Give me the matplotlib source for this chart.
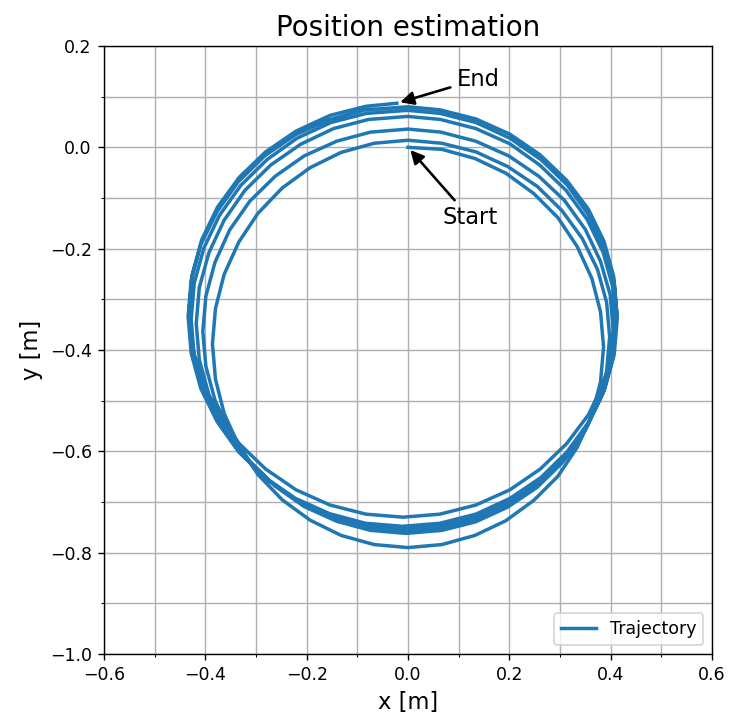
import numpy as np
import matplotlib
matplotlib.use("Agg")
import matplotlib.pyplot as plt
from matplotlib.ticker import MultipleLocator

# estimated trajectory, read off the reference loop by loop
# (clockwise, starting at the top of each loop, roughly every 10 degrees)
loop1_x = [0.000, 0.067, 0.132, 0.193, 0.248, 0.296, 0.334, 0.363, 0.380, 0.386,
           0.380, 0.363, 0.334, 0.296, 0.248, 0.193, 0.132, 0.067, 0.000,
           -0.067, -0.132, -0.193, -0.248, -0.296, -0.334, -0.363, -0.380, -0.386,
           -0.380, -0.363, -0.334, -0.296, -0.248, -0.193, -0.132, -0.067]
loop1_y = [0.000, -0.004, -0.022, -0.051, -0.091, -0.139, -0.196, -0.259, -0.325, -0.394,
           -0.463, -0.529, -0.592, -0.649, -0.697, -0.737, -0.766, -0.784, -0.790,
           -0.784, -0.766, -0.736, -0.696, -0.646, -0.589, -0.525, -0.458, -0.388,
           -0.318, -0.251, -0.187, -0.130, -0.080, -0.040, -0.010, 0.008]

loop2_x = [0.000, 0.067, 0.134, 0.197, 0.255, 0.304, 0.344, 0.374, 0.392, 0.398,
           0.392, 0.374, 0.344, 0.304, 0.255, 0.197, 0.134, 0.067, -0.004,
           -0.074, -0.141, -0.205, -0.262, -0.312, -0.352, -0.381, -0.399, -0.405,
           -0.399, -0.381, -0.352, -0.312, -0.262, -0.205, -0.141, -0.074]
loop2_y = [0.014, 0.008, -0.009, -0.038, -0.077, -0.125, -0.180, -0.241, -0.306, -0.374,
           -0.442, -0.507, -0.568, -0.623, -0.671, -0.710, -0.739, -0.756, -0.762,
           -0.756, -0.738, -0.709, -0.669, -0.620, -0.563, -0.499, -0.432, -0.363,
           -0.294, -0.227, -0.163, -0.106, -0.057, -0.017, 0.012, 0.030]

loop3_x = [0.000, 0.065, 0.134, 0.199, 0.258, 0.309, 0.350, 0.380, 0.399, 0.405,
           0.399, 0.380, 0.350, 0.309, 0.258, 0.199, 0.134, 0.065, -0.007,
           -0.078, -0.147, -0.212, -0.271, -0.322, -0.363, -0.393, -0.412, -0.418,
           -0.412, -0.393, -0.363, -0.322, -0.271, -0.212, -0.147, -0.078]
loop3_y = [0.036, 0.030, 0.012, -0.017, -0.057, -0.105, -0.162, -0.225, -0.291, -0.360,
           -0.429, -0.495, -0.558, -0.615, -0.663, -0.703, -0.732, -0.750, -0.756,
           -0.750, -0.732, -0.702, -0.661, -0.611, -0.552, -0.488, -0.419, -0.348,
           -0.277, -0.208, -0.144, -0.085, -0.035, 0.006, 0.037, 0.055]

loop4_x = [0.000, 0.064, 0.134, 0.201, 0.260, 0.312, 0.354, 0.385, 0.404, 0.410,
           0.404, 0.385, 0.354, 0.312, 0.260, 0.201, 0.134, 0.064, -0.009,
           -0.082, -0.152, -0.219, -0.278, -0.330, -0.372, -0.403, -0.422, -0.428,
           -0.422, -0.403, -0.372, -0.330, -0.278, -0.219, -0.152, -0.082]
loop4_y = [0.061, 0.055, 0.037, 0.007, -0.035, -0.085, -0.143, -0.207, -0.275, -0.346,
           -0.417, -0.485, -0.549, -0.607, -0.657, -0.698, -0.728, -0.746, -0.752,
           -0.746, -0.728, -0.697, -0.656, -0.605, -0.546, -0.481, -0.412, -0.340,
           -0.268, -0.199, -0.134, -0.075, -0.024, 0.018, 0.049, 0.067]

loop5_x = [0.000, 0.063, 0.134, 0.201, 0.262, 0.314, 0.356, 0.388, 0.407, 0.413,
           0.407, 0.388, 0.356, 0.314, 0.262, 0.201, 0.134, 0.063, -0.011,
           -0.084, -0.155, -0.222, -0.283, -0.335, -0.377, -0.409, -0.428, -0.434,
           -0.428, -0.409, -0.377, -0.335, -0.283, -0.222, -0.155, -0.084]
loop5_y = [0.073, 0.067, 0.049, 0.018, -0.024, -0.074, -0.133, -0.198, -0.267, -0.338,
           -0.409, -0.478, -0.543, -0.601, -0.652, -0.693, -0.724, -0.742, -0.748,
           -0.742, -0.723, -0.693, -0.651, -0.600, -0.541, -0.476, -0.406, -0.334,
           -0.262, -0.192, -0.127, -0.068, -0.017, 0.025, 0.055, 0.074]

loop6_x = [0.000, 0.063, 0.134, 0.201, 0.261, 0.313, 0.356, 0.387, 0.406, 0.412,
           0.406, 0.387, 0.356, 0.313, 0.261, 0.201, 0.134, 0.063, -0.010,
           -0.083, -0.154, -0.221, -0.281, -0.333, -0.376, -0.407, -0.426, -0.432,
           -0.426, -0.407, -0.376, -0.333, -0.281, -0.221, -0.154, -0.083, -0.022]
loop6_y = [0.080, 0.074, 0.056, 0.026, -0.015, -0.065, -0.122, -0.186, -0.255, -0.325,
           -0.395, -0.464, -0.528, -0.585, -0.635, -0.676, -0.706, -0.724, -0.730,
           -0.724, -0.706, -0.676, -0.635, -0.585, -0.526, -0.462, -0.393, -0.322,
           -0.251, -0.182, -0.118, -0.059, -0.009, 0.032, 0.063, 0.081, 0.087]

x = np.concatenate([loop1_x, loop2_x, loop3_x, loop4_x, loop5_x, loop6_x])
y = np.concatenate([loop1_y, loop2_y, loop3_y, loop4_y, loop5_y, loop6_y])

fig = plt.figure(figsize=(731 / 125, 722 / 125), dpi=125)
ax = fig.add_axes([0.1423, 0.0942, 0.8317, 0.8421])

ax.plot(x, y, color="#1f77b4", lw=2.0, label="Trajectory")

ax.annotate("Start", xy=(x[0], y[0]), xytext=(0.068, -0.152), fontsize=13,
            arrowprops=dict(arrowstyle="-|>", color="black", lw=1.5, mutation_scale=16))
ax.annotate("End", xy=(x[-1], y[-1]), xytext=(0.097, 0.122), fontsize=13,
            arrowprops=dict(arrowstyle="-|>", color="black", lw=1.5, mutation_scale=16))

ax.set_xlim(-0.6, 0.6)
ax.set_ylim(-1.0, 0.2)
ax.xaxis.set_major_locator(MultipleLocator(0.2))
ax.yaxis.set_major_locator(MultipleLocator(0.2))
ax.xaxis.set_minor_locator(MultipleLocator(0.1))
ax.yaxis.set_minor_locator(MultipleLocator(0.1))
ax.grid(which="both", color="#b0b0b0", lw=0.8)
ax.set_axisbelow(True)

ax.set_title("Position estimation", fontsize=16)
ax.set_xlabel("x [m]", fontsize=13)
ax.set_ylabel("y [m]", fontsize=13)
ax.legend(loc="lower right", fontsize=10)

fig.savefig("out.png", dpi=125)
